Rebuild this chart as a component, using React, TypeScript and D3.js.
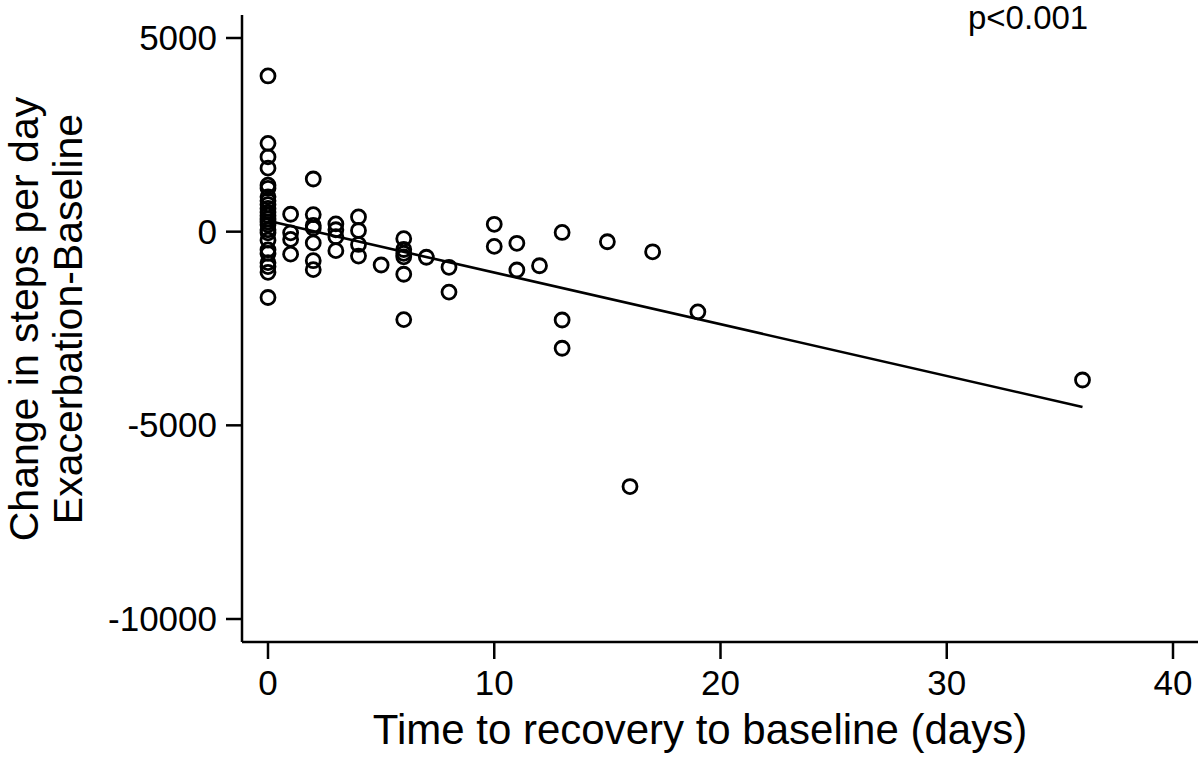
import React from "react";
import * as d3 from "d3";

// Time to recovery (days) and change in steps per day (Exacerbation - Baseline)
const days: number[] = [
  0, 0, 0, 0, 0, 0, 0, 0, 0, 0, 0, 0, 0, 0, 0, 0, 0, 0, 0, 0, 0, 0, 0, 0,
  1, 1, 1, 1,
  2, 2, 2, 2, 2, 2, 2,
  3, 3, 3, 3,
  4, 4, 4, 4,
  5,
  6, 6, 6, 6, 6, 6,
  7,
  8, 8,
  10, 10,
  11, 11,
  12,
  13, 13, 13,
  15,
  16,
  17,
  19,
  36,
];
const stepChange: number[] = [
  4020, 2280, 1930, 1640, 1200, 1120, 900, 800, 700, 600, 500, 420, 330, 250, 180, 50, -30, -220, -470, -560, -800, -900, -1050, -1700,
  450, -30, -200, -580,
  1360, 440, 160, 90, -290, -750, -980,
  200, 50, -130, -490,
  380, 30, -330, -630,
  -860,
  -180, -460, -560, -650, -1100, -2270,
  -660,
  -920, -1560,
  190, -380,
  -300, -990,
  -880,
  -20, -2280, -3010,
  -260,
  -6580,
  -520,
  -2070,
  -3830,
];

const xTicks: number[] = [0, 10, 20, 30, 40];
const yTicks: number[] = [5000, 0, -5000, -10000];
const fitCoef: number[] = [280, -133.5]; // intercept, slope
const fitRange: number[] = [0, 36];

const xTitle = "Time to recovery to baseline (days)";
const yTitle1 = "Change in steps per day";
const yTitle2 = "Exacerbation-Baseline";
const pText = "p<0.001";

export default function App() {
  const W = 1200;
  const H = 762;
  const x = d3.scaleLinear().domain([0, 40]).range([268, 1173]);
  const y = d3.scaleLinear().domain([-10000, 5000]).range([619, 38]);
  const axisX = 242;
  const axisY = 642;
  const font = "'Liberation Sans', Arial, Helvetica, sans-serif";
  const pts = days.map((d, i) => [d, stepChange[i]]);
  const line = d3
    .line<number>()
    .x((d) => x(d))
    .y((d) => y(fitCoef[0] + fitCoef[1] * d));

  return (
    <svg
      width={W}
      height={H}
      style={{ position: "absolute", left: 0, top: 0, background: "#fff" }}
      fontFamily={font}
    >
      <rect width={W} height={H} fill="#fff" />
      {/* axes */}
      <line x1={axisX} y1={15} x2={axisX} y2={axisY} stroke="#000" strokeWidth={2.5} />
      <line x1={axisX} y1={axisY} x2={1198} y2={axisY} stroke="#000" strokeWidth={2.5} />
      {yTicks.map((t) => (
        <g key={"y" + t}>
          <line x1={axisX - 16} x2={axisX} y1={y(t)} y2={y(t)} stroke="#000" strokeWidth={2.5} />
          <text x={217} y={y(t) + 12} textAnchor="end" fontSize={35} fill="#000">
            {t}
          </text>
        </g>
      ))}
      {xTicks.map((t) => (
        <g key={"x" + t}>
          <line x1={x(t)} x2={x(t)} y1={axisY} y2={axisY + 17} stroke="#000" strokeWidth={2.5} />
          <text x={x(t)} y={695} textAnchor="middle" fontSize={35} fill="#000">
            {t}
          </text>
        </g>
      ))}
      {/* titles */}
      <text x={700} y={744} textAnchor="middle" fontSize={42} fill="#000">
        {xTitle}
      </text>
      <text
        transform={`translate(38,319) rotate(-90)`}
        textAnchor="middle"
        fontSize={41}
        fill="#000"
      >
        {yTitle1}
      </text>
      <text
        transform={`translate(82,319) rotate(-90)`}
        textAnchor="middle"
        fontSize={41}
        fill="#000"
      >
        {yTitle2}
      </text>
      <text x={968} y={29} fontSize={33} fill="#000">
        {pText}
      </text>
      {/* fit line */}
      <path d={line(fitRange) || ""} fill="none" stroke="#000" strokeWidth={2.6} />
      {/* points */}
      {pts.map(([d, v], i) => (
        <circle key={i} cx={x(d)} cy={y(v)} r={7} fill="none" stroke="#000" strokeWidth={2.8} />
      ))}
    </svg>
  );
}
